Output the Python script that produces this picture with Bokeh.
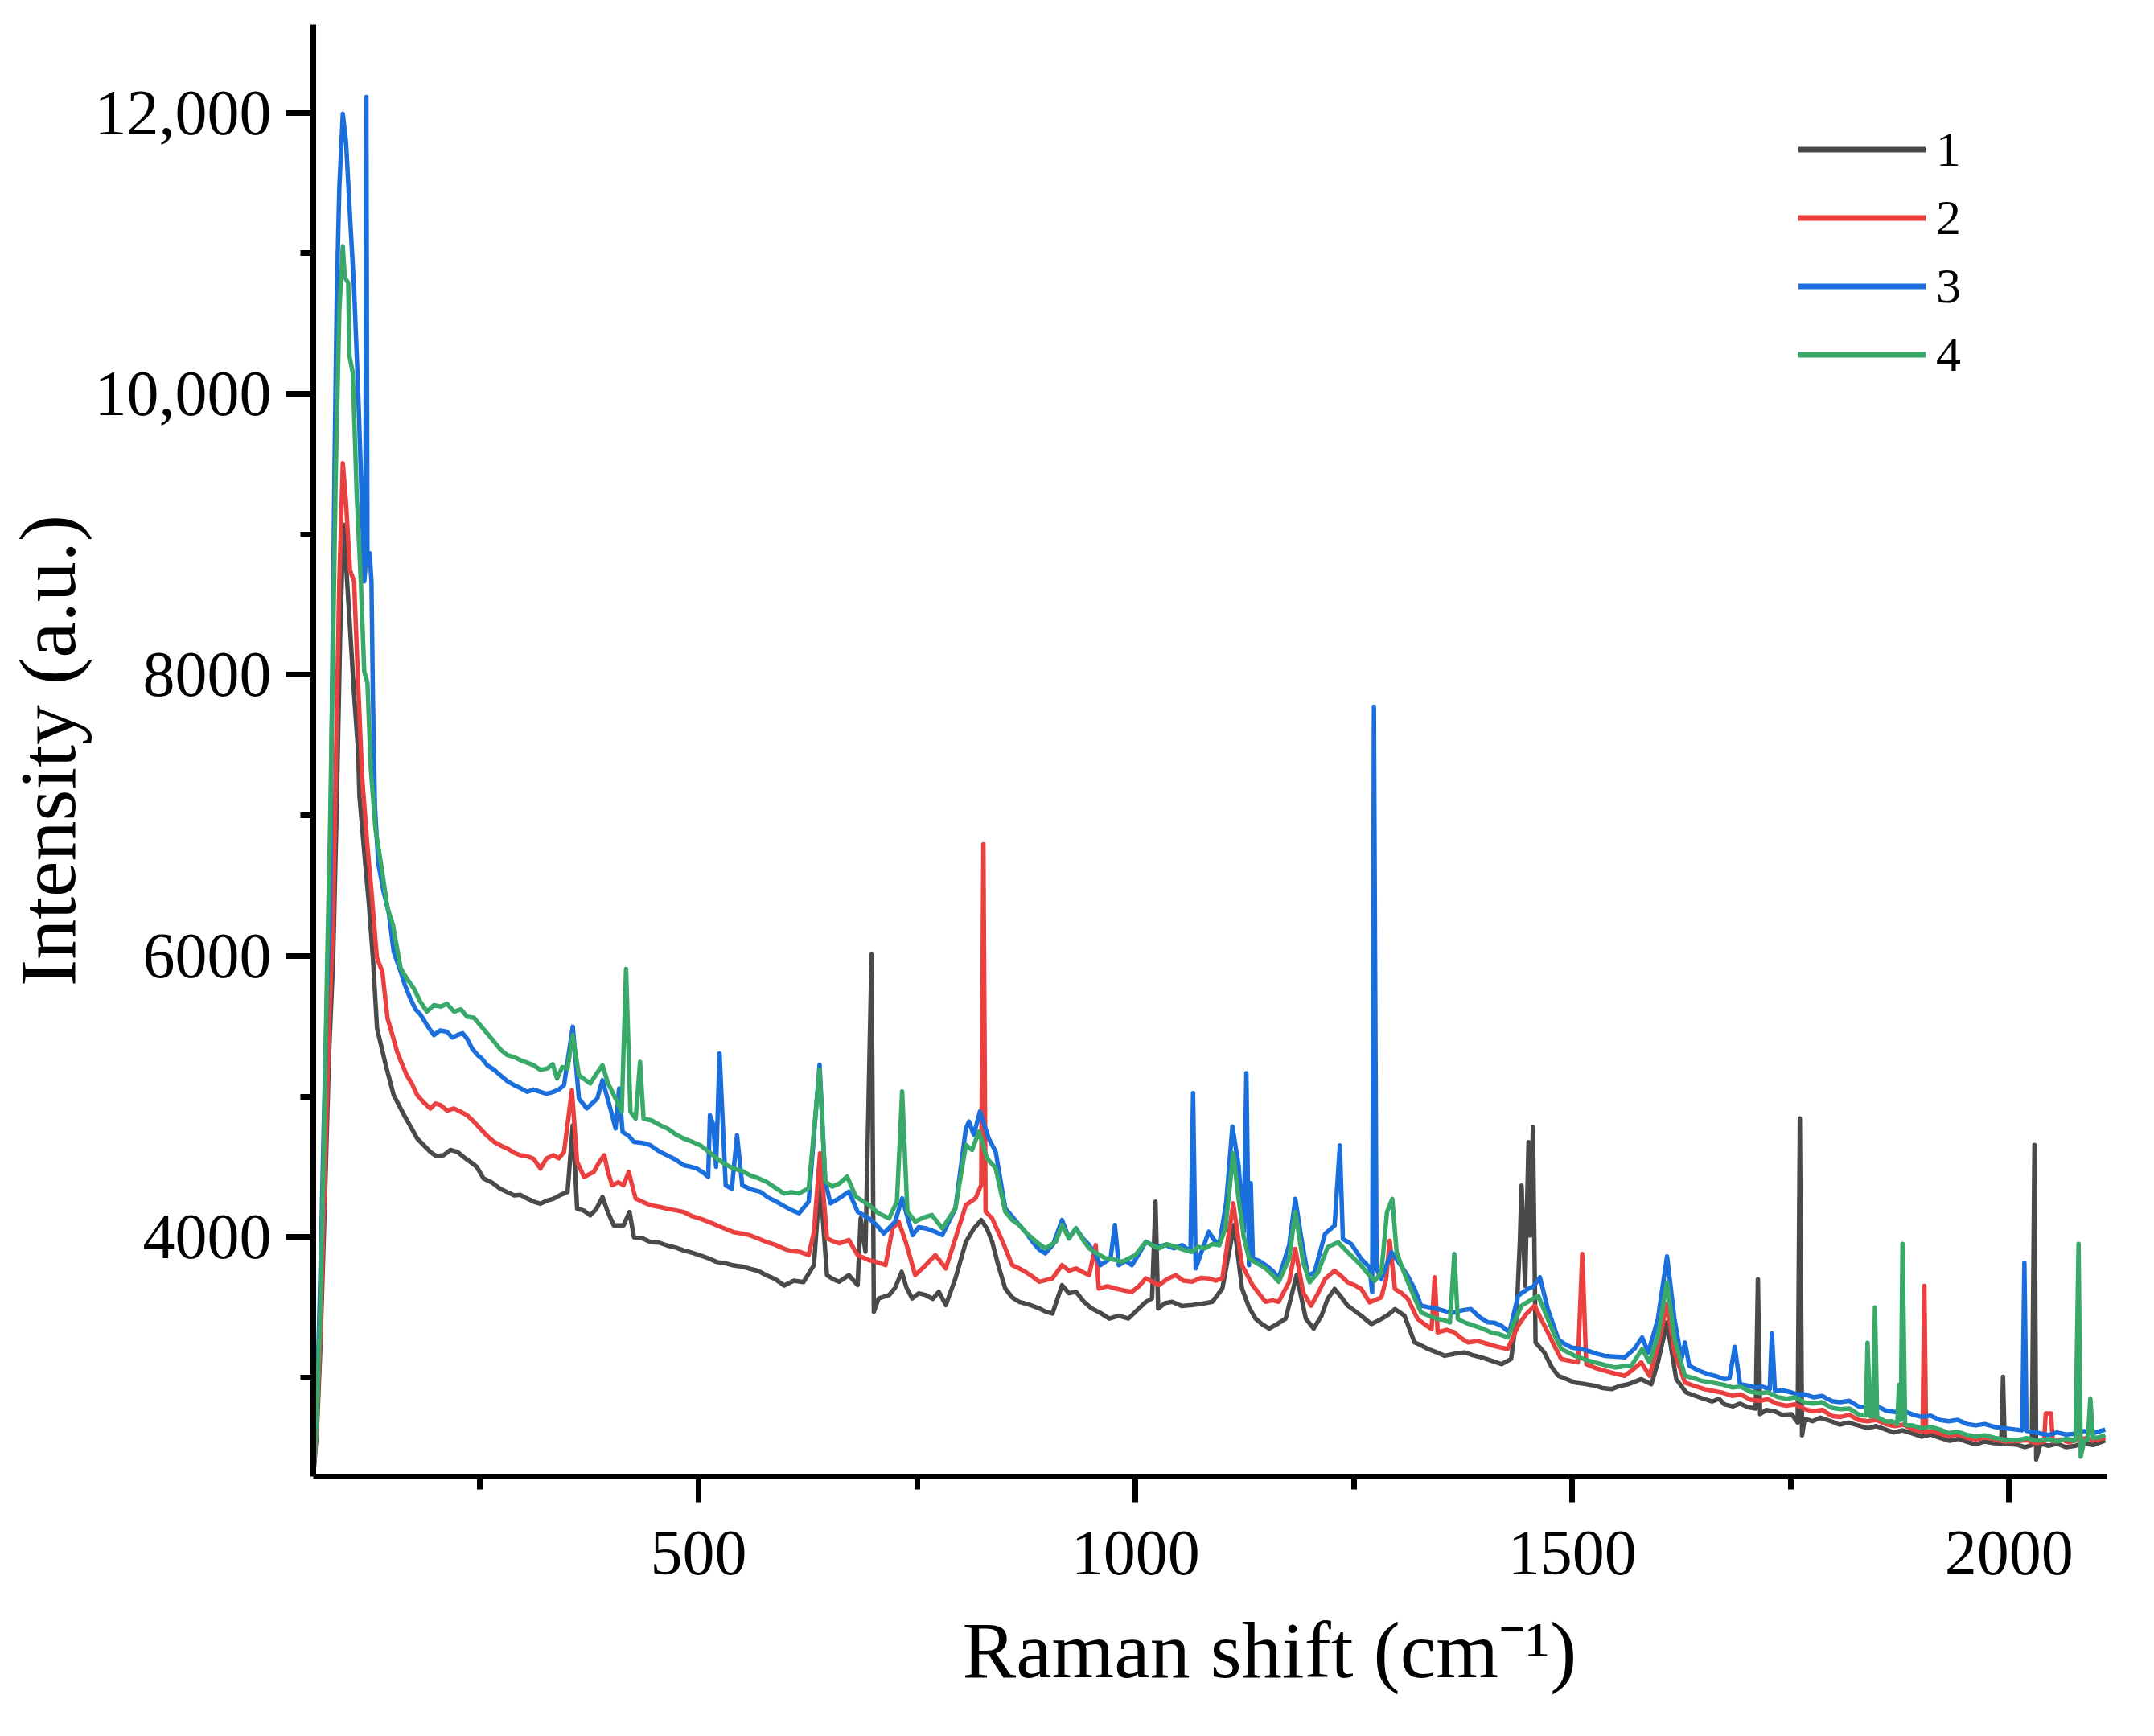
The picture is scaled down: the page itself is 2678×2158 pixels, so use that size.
from bokeh.plotting import figure
from bokeh.models import Range1d, FixedTicker, Legend, LegendItem, Title
from bokeh.embed import file_html
from bokeh.resources import INLINE

# ---------------- data ----------------
series_names = ["1", "2", "3", "4"]
series_colors = ["#4a4a4a", "#ea4040", "#1b6fdc", "#39a96a"]

# (Raman shift, intensity) pairs, one list per spectrum
spectrum_1 = [
    (59, 2300), (63, 2600), (67, 3200), (72, 4200), (77, 5300), (81.8, 5990), (85.8, 7060), (89.7, 8260), (93.4, 9070),
    (96.5, 8790), (101, 8340), (105.7, 7860), (110.3, 7460), (111.8, 7140), (117.3, 6740), (122.5, 6380), (127.2, 5990),
    (132, 5485), (142, 5223), (151, 5010), (163, 4867), (170, 4790), (178, 4701), (186, 4650), (193, 4606), (200, 4575),
    (208, 4582), (216, 4620), (224, 4606), (231, 4570), (239, 4534), (246, 4500), (254, 4416), (263, 4390), (273, 4344),
    (281, 4320), (289, 4297), (296, 4300), (304, 4273), (312, 4250), (319, 4237), (327, 4260), (334, 4273), (342, 4300),
    (350, 4321), (356, 4796), (361, 4202), (368, 4190), (376, 4154), (383, 4200), (390, 4285), (396, 4180), (403, 4083),
    (414, 4083), (421, 4178), (426, 3999), (436, 3990), (445, 3964), (455, 3960), (464, 3940), (474, 3925), (483, 3905),
    (492, 3890), (502, 3869), (511, 3850), (521, 3822), (530, 3815), (540, 3798), (550, 3790), (559, 3774), (568, 3760),
    (578, 3727), (588, 3700), (598, 3655), (609, 3690), (620, 3680), (632, 3800), (639, 4400), (647, 3729), (654, 3700),
    (661, 3682), (672, 3729), (682, 3658), (685.5, 4133), (691, 3896), (698, 6010), (700.6, 3468), (706, 3563), (718, 3587),
    (725, 3640), (732.5, 3753), (738, 3640), (744.5, 3563), (752, 3600), (760, 3587), (768, 3560), (775, 3611), (783, 3516),
    (794, 3706), (806, 3967), (815, 4060), (823.5, 4121), (830, 4060), (836, 3967), (843, 3800), (851, 3634), (859, 3570),
    (867, 3539), (878, 3520), (890, 3492), (897, 3470), (905, 3456), (916, 3658), (924, 3600), (932, 3611), (941, 3540),
    (950, 3492), (960, 3460), (970, 3420), (981, 3440), (992, 3420), (1002, 3480), (1012, 3539), (1019, 3563), (1023, 4252),
    (1026, 3492), (1034, 3530), (1042, 3539), (1053, 3510), (1065, 3516), (1076, 3525), (1088, 3539), (1099.5, 3634),
    (1113, 4086), (1122, 3634), (1130, 3500), (1137.5, 3420), (1145, 3380), (1153, 3349), (1162, 3380), (1172, 3420),
    (1184.5, 3729), (1195, 3420), (1204, 3349), (1213, 3440), (1220, 3560), (1228, 3631), (1236, 3570), (1243, 3512),
    (1250, 3480), (1258.5, 3440), (1270, 3381), (1281.5, 3417), (1290, 3450), (1297, 3488), (1308, 3440), (1319.5, 3250),
    (1327, 3230), (1335, 3203), (1345, 3180), (1354, 3155), (1366, 3170), (1377, 3179), (1386, 3160), (1396, 3144),
    (1408, 3120), (1419, 3096), (1430, 3132), (1436, 3417), (1440, 3963), (1442, 4367), (1446, 3654), (1450, 4676),
    (1452, 4011), (1455, 4783), (1458, 3250), (1468, 3179), (1476, 3080), (1484, 3013), (1493, 2990), (1503, 2965),
    (1514, 2955), (1526, 2942), (1535, 2925), (1545, 2918), (1554, 2940), (1564, 2953), (1579, 2989), (1590.5, 2953),
    (1598, 3108), (1608.5, 3393), (1619, 2989), (1630.5, 2894), (1641, 2870), (1651.5, 2847), (1660, 2830), (1668, 2850),
    (1674, 2810), (1684, 2795), (1692, 2815), (1701, 2790), (1710, 2780), (1712.5, 3700), (1715, 2740), (1722, 2770),
    (1732, 2760), (1740, 2735), (1751, 2740), (1758, 2680), (1760.5, 4845), (1763, 2590), (1766, 2707), (1775, 2690),
    (1784, 2715), (1797, 2688), (1806, 2665), (1816, 2680), (1828, 2659), (1838, 2640), (1848, 2655), (1859, 2630),
    (1868, 2610), (1878, 2625), (1890, 2601), (1900, 2580), (1910, 2595), (1921, 2572), (1932, 2550), (1942, 2565),
    (1952, 2543), (1962, 2525), (1972, 2545), (1983, 2534), (1991, 2530), (1993, 3006), (1995, 2528), (2008, 2524),
    (2018, 2505), (2026, 2520), (2029, 4656), (2031, 2418), (2036, 2530), (2045, 2515), (2055, 2530), (2065, 2505),
    (2076, 2515), (2086, 2535), (2096, 2520), (2110, 2553),
]

spectrum_2 = [
    (59, 2300), (63, 2650), (67, 3300), (72, 4400), (77, 5500), (81.8, 6260), (85.1, 7460), (88.8, 8665), (92.8, 9506),
    (96.5, 9226), (101, 8745), (105.7, 8665), (110.3, 7943), (115, 7262), (121, 6781), (125.6, 6460), (131.8, 5987),
    (138, 5889), (144, 5556), (150, 5430), (155, 5318), (160, 5240), (166, 5152), (172, 5090), (178, 5010), (185, 4960),
    (193, 4915), (199, 4950), (205, 4938), (212, 4900), (220, 4915), (228, 4890), (235, 4867), (243, 4820), (250, 4772),
    (258, 4720), (266, 4677), (274, 4650), (281, 4630), (289, 4600), (296, 4582), (304, 4575), (311, 4558), (319, 4487),
    (326, 4560), (334, 4582), (340, 4560), (346, 4606), (355, 5045), (361, 4534), (369, 4428), (380, 4463), (386, 4530),
    (392, 4582), (396, 4470), (401, 4368), (408, 4390), (414, 4368), (420, 4463), (428, 4273), (436, 4250), (445, 4226),
    (455, 4215), (464, 4202), (474, 4190), (483, 4178), (492, 4150), (502, 4131), (511, 4110), (521, 4083), (530, 4060),
    (540, 4035), (550, 4025), (559, 4012), (568, 3990), (578, 3964), (588, 3945), (598, 3917), (606, 3900), (615, 3896),
    (626, 3872), (632, 4035), (639, 4597), (647, 3991), (654, 3970), (661, 3955), (672, 3979), (682, 3872), (695, 3836),
    (705, 3820), (714, 3800), (722, 4062), (729, 4110), (737, 3967), (748, 3729), (760, 3800), (771, 3872), (783, 3777),
    (794, 3991), (806, 4228), (817, 4276), (823.5, 4371), (826, 6794), (828.5, 4181), (836, 4133), (848, 3967), (859, 3800),
    (866, 3780), (874, 3753), (882, 3720), (890, 3682), (905, 3706), (916, 3800), (924, 3760), (932, 3777), (940, 3750),
    (947, 3729), (954.5, 3943), (958, 3634), (968, 3650), (977, 3634), (987, 3620), (996, 3611), (1004, 3650), (1012, 3706),
    (1020, 3680), (1027, 3658), (1036, 3700), (1046, 3729), (1055, 3690), (1065, 3682), (1075, 3710), (1084, 3706),
    (1092, 3690), (1099.5, 3706), (1112, 4240), (1122, 3800), (1134, 3658), (1149, 3539), (1157, 3550), (1164, 3539),
    (1176, 3682), (1183, 3916), (1192, 3607), (1201, 3512), (1209, 3600), (1217, 3702), (1228, 3761), (1236, 3720),
    (1243, 3678), (1250, 3660), (1258.5, 3631), (1268, 3536), (1281.5, 3571), (1287, 3702), (1291, 3975), (1297, 3631),
    (1305, 3600), (1312, 3559), (1323, 3417), (1331, 3380), (1339, 3346), (1342.5, 3714), (1346, 3322), (1356, 3340),
    (1365, 3322), (1373, 3280), (1381, 3250), (1392, 3260), (1403.5, 3239), (1414, 3220), (1426, 3203), (1438, 3369),
    (1447, 3450), (1457, 3512), (1464, 3420), (1472, 3322), (1480, 3220), (1487.5, 3132), (1497, 3120), (1506.5, 3108),
    (1511.5, 3880), (1516, 3096), (1526, 3070), (1537, 3049), (1548, 3030), (1560, 3013), (1570, 3060), (1579, 3108),
    (1588.5, 3013), (1598, 3227), (1608.5, 3524), (1617, 3179), (1629, 2965), (1640, 2940), (1651.5, 2918), (1662, 2905),
    (1673, 2891), (1683, 2870), (1693, 2880), (1704, 2843), (1714, 2835), (1724, 2845), (1735, 2813), (1745, 2800),
    (1755, 2810), (1766, 2775), (1776, 2760), (1786, 2770), (1797, 2727), (1807, 2720), (1817, 2735), (1828, 2698),
    (1838, 2690), (1848, 2700), (1859, 2669), (1869, 2655), (1879, 2665), (1890, 2630), (1901, 2615), (1903, 3653),
    (1905, 2610), (1912, 2620), (1921, 2601), (1931, 2585), (1941, 2595), (1952, 2572), (1962, 2560), (1972, 2575),
    (1983, 2563), (1995, 2545), (2008, 2548), (2020, 2555), (2030, 2535), (2040, 2545), (2042, 2746), (2048, 2746),
    (2050, 2545), (2060, 2560), (2068, 2540), (2076, 2553), (2088, 2570), (2098, 2555), (2110, 2572),
]

spectrum_3 = [
    (59, 2320), (63, 2800), (67, 3700), (71, 4800), (75, 5800), (78, 6260), (80.5, 7863), (83.3, 9466), (85.8, 10669),
    (88.8, 11470), (92.8, 11992), (96.5, 11791), (101, 11270), (105.7, 10749), (110.3, 10028), (115, 9146), (117.3, 8665),
    (118.5, 8750), (119.8, 12112), (121, 8785), (123.5, 8865), (125.6, 8665), (127.2, 7863), (129.6, 7062), (133.3, 6661),
    (139.4, 6460), (145.6, 6300), (151, 6031), (159, 5889), (164, 5790), (170, 5699), (176, 5620), (182, 5580), (190, 5500),
    (197, 5437), (204, 5470), (212, 5461), (218, 5420), (224, 5437), (230, 5450), (235, 5413), (241, 5340), (247, 5295),
    (252, 5270), (258, 5223), (266, 5190), (273, 5152), (281, 5110), (289, 5081), (296, 5060), (304, 5033), (311, 5050),
    (319, 5033), (326, 5020), (334, 5033), (340, 5050), (346, 5081), (356, 5497), (363, 4986), (372, 4915), (384, 4986),
    (390, 5116), (399, 4915), (405, 4772), (409, 5057), (413, 4748), (420, 4720), (426, 4677), (436, 4670), (445, 4653),
    (455, 4610), (464, 4582), (474, 4550), (483, 4511), (491, 4500), (498, 4487), (505, 4460), (511, 4428), (513, 4867),
    (517, 4796), (520, 4500), (524, 5307), (531, 4368), (538, 4344), (544, 4724), (550, 4368), (560, 4340), (571, 4321),
    (580, 4280), (590, 4249), (598, 4220), (607, 4190), (615, 4169), (626, 4252), (638.5, 5226), (645, 4395), (651, 4240),
    (661, 4276), (672, 4323), (682, 4181), (695, 4133), (703, 4090), (712, 4026), (725, 4110), (733, 4276), (745, 4014),
    (752, 4070), (760, 4062), (770, 4040), (779, 4014), (794, 4205), (806, 4775), (809.5, 4822), (815, 4727), (822, 4894),
    (832, 4703), (840, 4608), (851, 4205), (867, 4086), (875, 4030), (882, 3967), (890, 3910), (897, 3884), (906, 3950),
    (916, 4121), (924, 3991), (932, 4062), (940, 3990), (947, 3943), (954, 3880), (960, 3800), (971.5, 3848), (976.5, 4086),
    (981, 3800), (989, 3830), (996, 3800), (1004, 3880), (1012, 3967), (1023, 3930), (1034.5, 3943), (1044, 3920),
    (1053.5, 3943), (1063, 3896), (1066, 5024), (1069, 3777), (1076, 3900), (1084, 4038), (1090, 3980), (1096, 3943),
    (1104, 4250), (1111, 4787), (1118, 4513), (1124, 4038), (1127, 5167), (1130, 3800), (1132, 4383), (1134.5, 3848),
    (1142, 3830), (1149, 3800), (1157, 3760), (1164, 3706), (1176, 3943), (1183, 4272), (1190, 3987), (1197.5, 3726),
    (1205, 3749), (1217, 4023), (1228, 4082), (1234, 4652), (1237.5, 3987), (1247, 3951), (1258.5, 3844), (1268, 3785),
    (1271, 3607), (1273, 7773), (1276, 3773), (1281.5, 3702), (1293, 3892), (1304, 3797), (1312, 3720), (1319.5, 3631),
    (1327, 3512), (1336, 3500), (1346, 3488), (1356, 3470), (1365, 3464), (1375, 3480), (1384, 3488), (1394, 3430),
    (1403.5, 3393), (1411, 3390), (1419, 3369), (1428, 3322), (1438, 3583), (1449, 3631), (1456, 3650), (1463, 3714),
    (1472, 3488), (1484, 3274), (1491, 3240), (1499, 3215), (1508, 3205), (1518, 3191), (1528, 3170), (1537, 3155),
    (1548, 3150), (1560, 3144), (1571, 3203), (1580, 3286), (1587, 3179), (1598, 3417), (1608.5, 3863), (1617, 3417),
    (1625, 3132), (1629, 3250), (1634, 3084), (1645, 3050), (1655, 3025), (1665, 3010), (1674, 2989), (1680, 2995),
    (1686, 3219), (1692, 2953), (1700, 2945), (1709, 2930), (1718, 2935), (1726, 2918), (1728.5, 3315), (1732, 2906),
    (1741, 2910), (1751, 2894), (1758, 2880), (1766, 2881), (1776, 2860), (1786, 2870), (1797, 2833), (1807, 2825),
    (1817, 2835), (1828, 2794), (1838, 2790), (1848, 2800), (1859, 2765), (1869, 2755), (1879, 2765), (1890, 2736),
    (1900, 2720), (1910, 2730), (1921, 2698), (1931, 2690), (1941, 2700), (1952, 2669), (1962, 2660), (1972, 2670),
    (1983, 2650), (1995, 2640), (2008, 2630), (2015, 2625), (2017.5, 3817), (2020, 2620), (2030, 2610), (2045, 2592),
    (2055, 2610), (2065, 2595), (2076, 2601), (2086, 2620), (2096, 2605), (2110, 2630),
]

spectrum_4 = [
    (59, 2310), (63, 2700), (67, 3500), (71, 4600), (75, 5987), (78, 6861), (81.8, 8264), (84.8, 9466), (88.8, 10589),
    (92.8, 11050), (95, 10829), (99, 10789), (100.5, 10268), (104.2, 10148), (108.8, 9266), (113.4, 8665), (117.3, 8024),
    (121, 7943), (124.7, 7342), (130.2, 6901), (136.4, 6661), (144, 6340), (150.2, 6220), (159, 5912), (166, 5840),
    (174, 5770), (181, 5680), (189, 5604), (197, 5650), (205, 5640), (212, 5660), (220, 5604), (228, 5620), (235, 5568),
    (243, 5560), (250, 5508), (258, 5450), (266, 5390), (274, 5330), (281, 5295), (289, 5280), (296, 5259), (304, 5240),
    (311, 5223), (319, 5190), (327, 5200), (333, 5230), (338, 5128), (344, 5210), (350, 5200), (356, 5437), (363, 5152),
    (370, 5120), (376, 5093), (383, 5160), (390, 5223), (396, 5100), (403, 5010), (412, 4891), (417, 5908), (422, 4891),
    (428, 4843), (433, 5247), (437, 4843), (446, 4830), (456, 4796), (465, 4770), (474, 4730), (483, 4701), (492, 4680),
    (502, 4653), (511, 4610), (521, 4558), (530, 4520), (540, 4487), (550, 4470), (559, 4439), (568, 4420), (578, 4392),
    (588, 4350), (598, 4309), (606, 4320), (615, 4311), (626, 4347), (638.5, 5190), (645, 4395), (653, 4359), (661, 4380),
    (670, 4430), (680, 4288), (695, 4228), (706, 4169), (718, 4133), (727, 4252), (733, 5036), (739, 4181), (748, 4110),
    (758, 4140), (767, 4157), (779, 4062), (794, 4205), (806, 4656), (813, 4620), (821, 4751), (830, 4561), (840, 4490),
    (851, 4181), (859, 4120), (867, 4086), (875, 4030), (882, 3991), (890, 3950), (897, 3920), (909, 3967), (916, 4086),
    (924, 3991), (932, 4062), (940, 3980), (947, 3920), (957, 3880), (966, 3848), (975, 3840), (985, 3824), (1000, 3872),
    (1012, 3967), (1020, 3940), (1027, 3920), (1036, 3950), (1046, 3931), (1055, 3910), (1065, 3896), (1072, 3930),
    (1080, 3920), (1088, 3950), (1096, 3943), (1103, 4062), (1112, 4597), (1118, 4276), (1124, 4000), (1130, 3848),
    (1140, 3810), (1149, 3777), (1157, 3730), (1164, 3682), (1176, 3848), (1183, 4177), (1192, 3821), (1199.5, 3678),
    (1209, 3749), (1220, 3928), (1232, 3963), (1243, 3892), (1250, 3850), (1258.5, 3797), (1266, 3740), (1274, 3690),
    (1281.5, 3749), (1288, 4177), (1294, 4272), (1299, 3892), (1306, 3770), (1312, 3678), (1320, 3560), (1327, 3464),
    (1336, 3440), (1346, 3417), (1353, 3410), (1360, 3393), (1365, 3880), (1369, 3417), (1378, 3390), (1388, 3369),
    (1397, 3350), (1407, 3322), (1416, 3310), (1426, 3286), (1434, 3400), (1442, 3512), (1452, 3550), (1461, 3583),
    (1472, 3417), (1480, 3300), (1487.5, 3203), (1495, 3180), (1503, 3155), (1514, 3130), (1526, 3108), (1537, 3090),
    (1548.5, 3072), (1558, 3080), (1567.5, 3084), (1580, 3203), (1588.5, 3108), (1598, 3298), (1608.5, 3678), (1617, 3274),
    (1629, 3013), (1640, 2995), (1648, 2977), (1660, 2965), (1673, 2949), (1683, 2930), (1693, 2935), (1704, 2900),
    (1714, 2890), (1724, 2895), (1735, 2862), (1745, 2850), (1755, 2860), (1766, 2823), (1776, 2815), (1786, 2825),
    (1797, 2785), (1807, 2775), (1817, 2780), (1828, 2736), (1836, 2730), (1838, 3248), (1841, 2725), (1844, 2722),
    (1846.5, 3499), (1849, 2718), (1859, 2688), (1866, 2690), (1872, 2670), (1874, 2949), (1876, 2700), (1878, 3952),
    (1881, 2662), (1890, 2659), (1900, 2640), (1910, 2650), (1921, 2630), (1931, 2605), (1941, 2615), (1952, 2592),
    (1962, 2580), (1972, 2590), (1983, 2572), (1995, 2560), (2008, 2553), (2020, 2570), (2032, 2550), (2045, 2563),
    (2055, 2545), (2065, 2565), (2076, 2553), (2079.5, 3952), (2082, 2437), (2086, 2550), (2090, 2560), (2093, 2852),
    (2096, 2570), (2103, 2575), (2110, 2592),
]

x_major_ticks = [500, 1000, 1500, 2000]
x_minor_ticks = [250, 750, 1250, 1750]
y_major_ticks = [4000, 6000, 8000, 10000, 12000]
y_minor_ticks = [3000, 5000, 7000, 9000, 11000]
y_tick_labels = ["4000", "6000", "8000", "10,000", "12,000"]

# ---------------- figure ----------------
FONT = "Liberation Serif"
W, H = 2660, 2142
p = figure(width=W, height=H, output_backend="svg", toolbar_location=None,
           x_range=Range1d(59, 2112), y_range=Range1d(2296, 12627),
           min_border_left=387, min_border_right=41, min_border_top=30, min_border_bottom=307)
p.outline_line_color = None
p.xgrid.visible = False
p.ygrid.visible = False
p.background_fill_color = "white"
p.border_fill_color = "white"

spectra = [spectrum_1, spectrum_2, spectrum_3, spectrum_4]
for spec, c in zip(spectra, series_colors):
    xs = [pt[0] for pt in spec]
    ys = [pt[1] for pt in spec]
    p.line(xs, ys, line_color=c, line_width=5.5, line_join="round")

# legend with slightly thicker sample lines (dummy renderers outside the visible range)
items = []
for name, c in zip(series_names, series_colors):
    r = p.line([-300, -200], [0, 0], line_color=c, line_width=7, line_cap="round")
    items.append(LegendItem(label=name, renderers=[r]))
legend = Legend(items=items, location=(1847, 1352), orientation="vertical",
                glyph_width=158, glyph_height=85, label_height=85, spacing=0, padding=0,
                margin=0, label_standoff=13, border_line_color=None,
                background_fill_alpha=0, label_text_font=FONT, label_text_font_size="62px",
                label_text_color="black")
p.add_layout(legend)

for ax in (p.xaxis[0], p.yaxis[0]):
    ax.axis_line_width = 7
    ax.axis_line_color = "black"
    ax.major_tick_line_width = 7
    ax.minor_tick_line_width = 7
    ax.major_tick_line_color = "black"
    ax.minor_tick_line_color = "black"
    ax.major_tick_in = 0
    ax.minor_tick_in = 0
    ax.major_label_text_font = FONT
    ax.major_label_text_font_size = "80px"
    ax.major_label_text_color = "black"
    ax.axis_label_text_font = FONT
    ax.axis_label_text_font_style = "normal"
    ax.axis_label_text_color = "black"
    ax.axis_label_text_font_size = "100px"

p.xaxis.ticker = FixedTicker(ticks=x_major_ticks, minor_ticks=x_minor_ticks)
p.xaxis.major_tick_out = 32
p.xaxis.minor_tick_out = 16
p.xaxis.major_label_standoff = 36

p.yaxis.ticker = FixedTicker(ticks=y_major_ticks, minor_ticks=y_minor_ticks)
p.yaxis.major_label_overrides = {t: s for t, s in zip(y_major_ticks, y_tick_labels)}
p.yaxis.major_tick_out = 34
p.yaxis.minor_tick_out = 16
p.yaxis.major_label_standoff = 18
p.yaxis.axis_label = "Intensity (a.u.)"
p.yaxis.axis_label_standoff = 0

# x-axis title placed as a below-panel title so it can sit right of centre like the reference
xtitle = Title(text="Raman shift (cm\u207b\u00b9)", align="left", offset=807, standoff=68,
               text_font=FONT, text_font_size="100px", text_font_style="normal", text_color="black")
p.add_layout(xtitle, "below")

open("out.html", "w").write(file_html(p, INLINE))
